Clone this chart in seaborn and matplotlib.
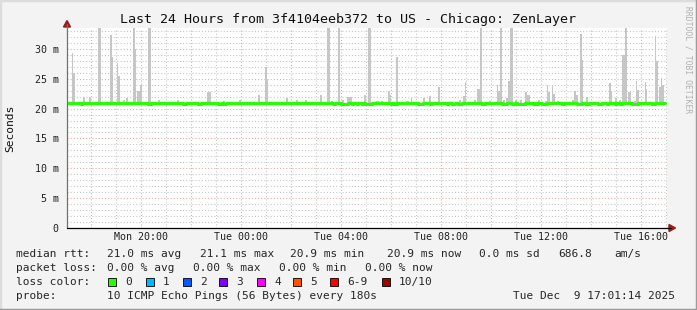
import matplotlib
matplotlib.use("Agg")
import matplotlib.pyplot as plt
import seaborn as sns
import pandas as pd
from matplotlib.patches import Polygon, Rectangle
from matplotlib.lines import Line2D

# ---------------- data (hours since Mon 00:00, milliseconds) ----------------
spike_hour = [17.27, 17.33, 17.73, 17.97, 18.35, 18.81, 18.85, 19.07, 19.13, 19.33,
              19.45, 19.73, 19.79, 19.93, 20.01, 20.35, 20.73, 21.49, 22.73, 23.33,
              23.97, 24.73, 25.01, 25.05, 25.85, 26.25, 26.61, 27.21, 27.51, 27.65,
              27.93, 28.09, 28.35, 28.97, 29.15, 29.47, 29.65, 29.93, 29.99, 30.25,
              30.67, 30.83, 31.33, 31.57, 31.93, 32.77, 32.93, 32.99, 33.37, 33.51,
              33.61, 33.97, 34.27, 34.33, 34.41, 34.53, 34.65, 34.73, 34.83, 35.01,
              35.21, 35.41, 35.51, 35.93, 36.21, 36.27, 36.33, 36.47, 36.53, 36.69,
              37.29, 37.37, 37.45, 37.61, 37.67, 37.85, 38.77, 38.83, 39.01, 39.17,
              39.31, 39.41, 39.55, 39.77, 39.83, 39.89, 40.19, 40.23, 40.59, 40.65,
              40.77, 40.83, 40.89]
spike_top_ms = [29.3, 26.0, 22.0, 22.0, 34.0, 32.4, 28.7, 27.7, 25.4, 21.4,
                21.8, 34.0, 30.0, 22.9, 23.9, 34.0, 21.4, 21.5, 22.7, 21.3,
                21.5, 22.2, 27.0, 25.0, 21.7, 21.4, 21.4, 22.2, 34.0, 21.3,
                34.0, 21.4, 22.0, 22.2, 34.0, 21.3, 21.3, 22.9, 22.2, 28.7,
                21.2, 21.8, 21.8, 22.1, 23.7, 21.4, 22.1, 24.5, 21.5, 23.2,
                34.0, 21.3, 23.9, 22.9, 34.0, 21.5, 21.8, 24.7, 34.0, 21.4,
                21.5, 22.7, 22.3, 21.5, 21.3, 23.9, 22.7, 24.0, 22.5, 21.3,
                21.5, 22.9, 22.2, 32.5, 28.2, 22.0, 24.3, 22.9, 21.8, 21.5,
                28.9, 34.0, 22.7, 21.3, 24.7, 23.1, 24.5, 23.2, 32.1, 28.0,
                23.7, 25.2, 24.0]
spike_width_min = [4, 7, 5, 4, 7, 4, 6, 4, 7, 7,
                   5, 5, 4, 10, 4, 7, 5, 7, 10, 5,
                   4, 7, 3, 5, 7, 4, 5, 4, 7, 5,
                   7, 5, 10, 4, 7, 5, 5, 6, 3, 4,
                   5, 4, 7, 4, 7, 5, 7, 3, 7, 7,
                   5, 3, 4, 6, 5, 5, 6, 7, 5, 4,
                   5, 6, 6, 6, 4, 4, 4, 4, 5, 7,
                   5, 4, 4, 4, 4, 4, 4, 4, 4, 6,
                   6, 5, 6, 7, 4, 3, 4, 4, 4, 4,
                   6, 3, 4]

median_ms = 21.0
dip_ms = 20.7
median_start_hour = 17.05
median_end_hour = 40.97
dip_start_hour = [17.61, 20.29, 21.69, 22.29, 23.09, 23.29, 27.69, 28.01, 28.45, 28.65,
                  28.85, 28.97, 30.01, 30.17, 31.09, 31.57, 32.25, 32.45, 32.69, 33.65,
                  34.45, 34.85, 35.05, 35.69, 35.85, 36.05, 36.85, 37.45, 37.81, 38.29,
                  38.65, 38.97, 39.17, 39.65, 40.45]
dip_end_hour = [17.65, 20.41, 21.81, 22.41, 23.21, 23.41, 27.77, 28.29, 28.49, 28.69,
                28.89, 29.25, 30.09, 30.25, 31.29, 31.65, 32.29, 32.57, 32.85, 33.77,
                34.65, 34.97, 35.37, 35.77, 35.89, 36.25, 36.93, 37.65, 37.93, 38.45,
                38.69, 39.05, 39.25, 39.89, 40.57]

x_tick_hours = [20, 24, 28, 32, 36, 40]
x_tick_labels = ["Mon 20:00", "Tue 00:00", "Tue 04:00", "Tue 08:00", "Tue 12:00", "Tue 16:00"]
y_ticks = [0, 5, 10, 15, 20, 25, 30]
y_tick_labels = ["0", "5 m", "10 m", "15 m", "20 m", "25 m", "30 m"]

title = "Last 24 Hours from 3f4104eeb372 to US - Chicago: ZenLayer"
rtt_label = "median rtt:"
rtt_values = ["21.0 ms avg", "21.1 ms max", "20.9 ms min", "20.9 ms now", "0.0 ms sd", "686.8", "am/s"]
loss_label = "packet loss:"
loss_values = ["0.00 % avg", "0.00 % max", "0.00 % min", "0.00 % now"]
color_label = "loss color:"
loss_names = ["0", "1", "2", "3", "4", "5", "6-9", "10/10"]
loss_colors = ["#26ff00", "#00b8ff", "#0059ff", "#7e00ff", "#ff00ff", "#ff5500", "#ff0000", "#a10000"]
probe_label = "probe:"
probe_text = "10 ICMP Echo Pings (56 Bytes) every 180s"
stamp_text = "Tue Dec  9 17:01:14 2025"
watermark = "RRDTOOL / TOBI OETIKER"

# ---------------- layout ----------------
W, H = 697, 310
MONO = "DejaVu Sans Mono"
sns.set_theme(style="white")
plt.rcParams["font.family"] = [MONO, "DejaVu Sans"]

fig = plt.figure(figsize=(W / 100, H / 100), dpi=100, facecolor="#f3f3f3")


def fx(x):
    return x / W


def fy(y):
    return 1 - y / H


ax_l, ax_r, ax_t, ax_b = 67, 667, 28, 228
ax = fig.add_axes([fx(ax_l), fy(ax_b), (ax_r - ax_l) / W, (ax_b - ax_t) / H])
ax.set_facecolor("white")
ax.set_xlim(17.05, 41.05)
ax.set_ylim(0, 33.5)

# grid
for h in range(18, 42):
    if h % 2 == 0:
        ax.axvline(h, color="#f2a0a0", lw=0.75, ls=(0, (1, 2)), zorder=1)
    else:
        ax.axvline(h, color="#c4c4c4", lw=0.75, ls=(0, (1, 2)), zorder=1)
for v in range(1, 34):
    if v % 5 == 0:
        ax.axhline(v, color="#f2a0a0", lw=0.75, ls=(0, (1, 2)), zorder=1)
    else:
        ax.axhline(v, color="#c4c4c4", lw=0.75, ls=(0, (1, 2)), zorder=1)

# smoke
spikes = pd.DataFrame({"hour": spike_hour, "top": spike_top_ms, "width": spike_width_min})
ax.bar(spikes["hour"], spikes["top"] - median_ms, bottom=median_ms,
       width=spikes["width"] / 60.0, color="#c6c6c6", linewidth=0, zorder=2)

# median line (step)
times = [median_start_hour]
vals = [median_ms]
for s, e in zip(dip_start_hour, dip_end_hour):
    times += [s, e]
    vals += [dip_ms, median_ms]
times.append(median_end_hour)
vals.append(median_ms)
med = pd.DataFrame({"hour": times, "ms": vals})
sns.lineplot(data=med, x="hour", y="ms", ax=ax, color="#26ff00", lw=2.3,
             drawstyle="steps-post", estimator=None, sort=False, zorder=3)

ax.set_xticks(x_tick_hours)
ax.set_xticklabels(x_tick_labels, fontsize=7.2, family=MONO, color="#202020")
ax.set_yticks(y_ticks)
ax.set_yticklabels(y_tick_labels, fontsize=7.2, family=MONO, color="#202020")
ax.tick_params(axis="both", length=0)
ax.tick_params(axis="x", pad=3)
ax.tick_params(axis="y", pad=6)
ax.set_xlabel("")
ax.set_ylabel("")
for sp in ax.spines.values():
    sp.set_visible(False)

# axes lines and arrows
fig.add_artist(Line2D([fx(ax_l), fx(ax_l)], [fy(ax_b), fy(24)], color="#707070", lw=0.9,
                      transform=fig.transFigure))
fig.add_artist(Line2D([fx(ax_l), fx(671)], [fy(ax_b), fy(ax_b)], color="#000000", lw=0.9,
                      transform=fig.transFigure))
fig.add_artist(Polygon([(fx(63.5), fy(27)), (fx(70.5), fy(27)), (fx(67), fy(20.5))],
                       closed=True, color="#9b1a1a", transform=fig.transFigure))
fig.add_artist(Polygon([(fx(669), fy(224.5)), (fx(669), fy(231.5)), (fx(675.5), fy(228))],
                       closed=True, color="#9b1a1a", transform=fig.transFigure))

# texts
fig.text(fx(348.5), fy(19), title, ha="center", va="center", fontsize=9.6, family=MONO, color="#101010")
fig.text(fx(10), fy(128), "Seconds", ha="center", va="center", rotation=90, fontsize=8.1,
         family=MONO, color="#101010")
fig.text(fx(688), fy(60), watermark, ha="center", va="center", rotation=270, fontsize=5.8,
         family=MONO, color="#b0b0b0")

LFS = 8.0
fig.text(fx(16), fy(254), rtt_label, ha="left", va="center", fontsize=LFS, family=MONO)
for x, s in zip([107, 200, 290, 387, 479, 558, 614], rtt_values):
    fig.text(fx(x), fy(254), s, ha="left", va="center", fontsize=LFS, family=MONO)
fig.text(fx(16), fy(268), loss_label, ha="left", va="center", fontsize=LFS, family=MONO)
for x, s in zip([107, 193, 279, 365], loss_values):
    fig.text(fx(x), fy(268), s, ha="left", va="center", fontsize=LFS, family=MONO)
fig.text(fx(16), fy(282), color_label, ha="left", va="center", fontsize=LFS, family=MONO)
for x, name, c in zip([108, 146, 183, 219, 257, 293, 330, 382], loss_names, loss_colors):
    fig.add_artist(Rectangle((fx(x), fy(286)), 8 / W, 8 / H, facecolor=c, edgecolor="#000000",
                             lw=0.6, transform=fig.transFigure))
    fig.text(fx(x + 17), fy(282), name, ha="left", va="center", fontsize=LFS, family=MONO)
fig.text(fx(16), fy(296), probe_label, ha="left", va="center", fontsize=LFS, family=MONO)
fig.text(fx(107), fy(296), probe_text, ha="left", va="center", fontsize=LFS, family=MONO)
fig.text(fx(513), fy(296), stamp_text, ha="left", va="center", fontsize=LFS, family=MONO)

# frame
fig.add_artist(Line2D([0, 0, 1], [0, 1, 1], color="#dcdcdc", lw=2.5, transform=fig.transFigure))
fig.add_artist(Line2D([0, 1, 1], [0, 0, 1], color="#9c9c9c", lw=2.5, transform=fig.transFigure))

fig.savefig("out.png", dpi=100, facecolor=fig.get_facecolor())
